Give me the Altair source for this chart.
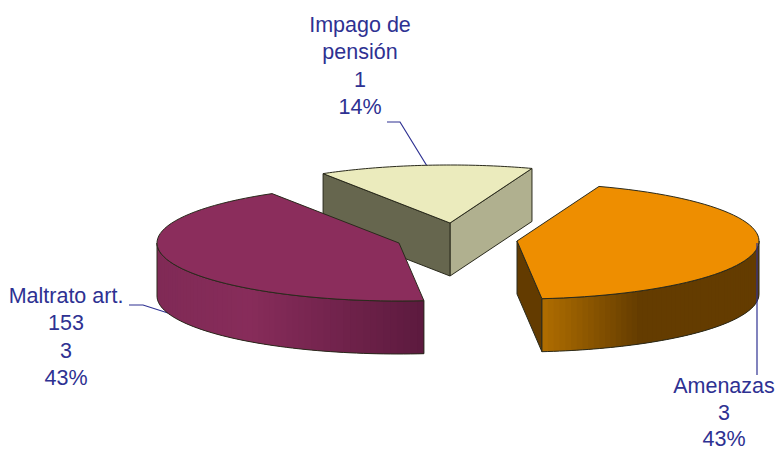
import math
import altair as alt

# ---- chart values ----
categories = ["Amenazas", "Maltrato art.", "Impago de pensión"]
values = [3, 3, 1]
label_lines = [
    ["Amenazas", "3", "43%"],
    ["Maltrato art.", "153", "3", "43%"],
    ["Impago de", "pensión", "1", "14%"],
]

# ---- layout / style ----
W, H = 768, 442
RX, RY, DEPTH = 242, 58, 53
START_DEG = 70.2
apex = {"Amenazas": (517, 241), "Maltrato art.": (399, 243), "Impago de pensión": (450, 223)}
top_color = {"Amenazas": "#ee8e00", "Maltrato art.": "#8b2d5c", "Impago de pensión": "#ebebbd"}
# wall gradient stops: (fraction along the visible wall, left->right in x, colour rgb)
wall_stops = {
    "Amenazas": [(0.0, (176, 110, 0)), (0.45, (100, 60, 0)), (1.0, (100, 60, 0))],
    "Maltrato art.": [(0.0, (128, 42, 86)), (0.35, (135, 44, 90)), (1.0, (92, 26, 62))],
}
# (face along the clockwise-end radius, face along the start radius)
radial_face = {"Amenazas": ("#633b00", None), "Impago de pensión": ("#b0b08f", "#66664e")}
edge = "#2a2a1c"
text_color = "#2e3192"
label_pos = {"Amenazas": (724, 387), "Maltrato art.": (66, 297), "Impago de pensión": (360, 26)}
LINE_STEP = {"Amenazas": 26.5, "Maltrato art.": 27.3, "Impago de pensión": 27.3}
leaders = [
    [(387, 122), (400, 122), (427, 166)],
    [(129, 305), (143, 305), (168, 313)],
    [(757, 243), (757, 375)],
]
STRIPS = 60

total = sum(values)
angles = {}
cur = START_DEG
for c, v in zip(categories, values):
    nxt = cur - 360 * v / total
    angles[c] = (cur, nxt)
    cur = nxt


def pt(c, deg, drop=0):
    ax, ay = apex[c]
    r = math.radians(deg)
    return (ax + RX * math.cos(r), ay - RY * math.sin(r) + drop)


def arc(c, a0, a1, drop=0, n=STRIPS):
    return [pt(c, a0 + (a1 - a0) * i / n, drop) for i in range(n + 1)]


def poly(points, fill, stroke, width):
    pts = [list(p) for p in points]
    if pts[0] != pts[-1]:
        pts.append(pts[0])
    return {"type": "Feature", "geometry": {"type": "Polygon", "coordinates": [pts]},
            "properties": {"fill": fill, "stroke": stroke, "sw": width}}


def line(points, stroke, width):
    return {"type": "Feature", "geometry": {"type": "LineString", "coordinates": [list(p) for p in points]},
            "properties": {"fill": "transparent", "stroke": stroke, "sw": width}}


def grad(stops, f):
    for (f0, c0), (f1, c1) in zip(stops, stops[1:]):
        if f <= f1:
            u = (f - f0) / (f1 - f0)
            rgb = [round(a + (b - a) * u) for a, b in zip(c0, c1)]
            return "#%02x%02x%02x" % tuple(rgb)
    return "#%02x%02x%02x" % stops[-1][1]


def draw_slice(c):
    a0, a1 = angles[c]
    out = []
    ax, ay = apex[c]
    apex_low = (ax, ay + DEPTH)
    faces = radial_face.get(c)
    if faces:
        if faces[0]:
            p = pt(c, a1)
            out.append(poly([(ax, ay), p, (p[0], p[1] + DEPTH), apex_low], faces[0], edge, 1))
        if faces[1]:
            p = pt(c, a0)
            out.append(poly([(ax, ay), p, (p[0], p[1] + DEPTH), apex_low], faces[1], edge, 1))
    # outer wall: only the part of the rim facing the viewer (sin < 0)
    if c in wall_stops:
        lo = max(a1, -180)
        hi = min(a0, 0)
        xs = sorted([pt(c, lo)[0], pt(c, hi)[0]])
        step = (hi - lo) / STRIPS
        for i in range(STRIPS):
            s0 = lo + step * i
            # each strip reaches under the next one, so no seams show
            s1 = min(s0 + step * 3, hi) if step > 0 else max(s0 + step * 3, hi)
            p0, p1 = pt(c, s0), pt(c, s1)
            pm = pt(c, s0 + step / 2)
            f = (pm[0] - xs[0]) / (xs[1] - xs[0])
            col = grad(wall_stops[c], f)
            out.append(poly([p0, p1, (p1[0], p1[1] + DEPTH), (p0[0], p0[1] + DEPTH)], col, "transparent", 0))
        out.append(poly(arc(c, lo, hi) + arc(c, hi, lo, DEPTH), "transparent", edge, 1))
    # top face
    out.append(poly([(ax, ay)] + arc(c, a0, a1), top_color[c], edge, 1))
    return out


features = []
for lead in leaders[:2]:
    features.append(line(lead, text_color, 1.2))
for c in ["Impago de pensión", "Amenazas", "Maltrato art."]:
    features += draw_slice(c)
features.append(line(leaders[2], text_color, 1.2))

text_rows = []
for c, lines_ in zip(categories, label_lines):
    x, y = label_pos[c]
    for i, t in enumerate(lines_):
        text_rows.append({"lon": x, "lat": y + i * LINE_STEP[c], "t": t})

proj = dict(type="identity", scale=1, translate=[-8, -8])

shapes = alt.Chart(alt.InlineData(values=features)).mark_geoshape().encode(
    fill=alt.Fill("properties.fill:N", scale=None),
    stroke=alt.Stroke("properties.stroke:N", scale=None),
    strokeWidth=alt.StrokeWidth("properties.sw:Q", scale=None),
).project(**proj)

labels = alt.Chart(alt.InlineData(values=text_rows)).mark_text(
    font="Liberation Sans", fontSize=21.5, color=text_color, align="center", baseline="middle"
).encode(longitude="lon:Q", latitude="lat:Q", text="t:N").project(**proj)

chart = alt.layer(shapes, labels).properties(
    width=W, height=H, padding=0, autosize=alt.AutoSizeParams(type="none"), background="white"
).configure_view(stroke=None)

chart.save("out.html", embed_options={"renderer": "svg", "actions": False})
